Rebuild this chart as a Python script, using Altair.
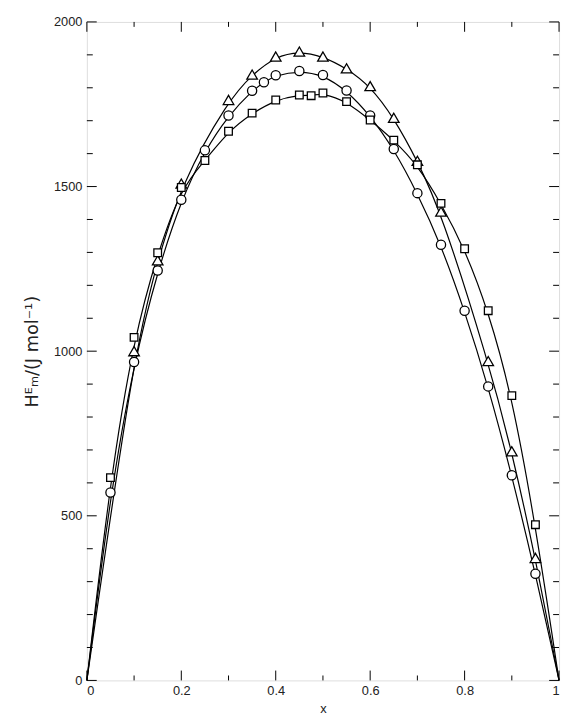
import altair as alt
import pandas as pd

# Data
tri_x = [0.10, 0.15, 0.20, 0.30, 0.35, 0.40, 0.45, 0.50, 0.55, 0.60, 0.65, 0.70, 0.75, 0.85, 0.90, 0.95]
tri_y = [1000, 1276, 1509, 1763, 1840, 1895, 1910, 1895, 1859, 1805, 1709, 1578, 1424, 970, 696, 372]

cir_x = [0.05, 0.10, 0.15, 0.20, 0.25, 0.30, 0.35, 0.375, 0.40, 0.45, 0.50, 0.55, 0.60, 0.65, 0.70, 0.75, 0.80, 0.85, 0.90, 0.95]
cir_y = [571, 967, 1245, 1460, 1610, 1716, 1791, 1817, 1838, 1851, 1839, 1792, 1716, 1614, 1480, 1323, 1123, 893, 623, 324]

sq_x = [0.05, 0.10, 0.15, 0.20, 0.25, 0.30, 0.35, 0.40, 0.45, 0.475, 0.50, 0.55, 0.60, 0.65, 0.70, 0.75, 0.80, 0.85, 0.90, 0.95]
sq_y = [616, 1042, 1299, 1497, 1579, 1668, 1723, 1763, 1778, 1776, 1784, 1758, 1702, 1641, 1566, 1449, 1311, 1123, 865, 473]

end_x = [0.0, 1.0]
end_y = [0, 0]

y_major = [0, 500, 1000, 1500, 2000]
y_minor = [100, 200, 300, 400, 600, 700, 800, 900, 1100, 1200, 1300, 1400,
           1600, 1700, 1800, 1900]
x_major = [0, 0.2, 0.4, 0.6, 0.8, 1.0]
x_minor = [0.1, 0.3, 0.5, 0.7, 0.9]

W, H = 479, 668

series = [("triangle", tri_x, tri_y), ("circle", cir_x, cir_y), ("square", sq_x, sq_y)]
pts = pd.concat([pd.DataFrame({"s": n, "x": xs, "y": ys}) for n, xs, ys in series])
lines = pd.concat([
    pd.DataFrame({"s": n, "x": [end_x[0]] + xs + [end_x[1]], "y": [end_y[0]] + ys + [end_y[1]]})
    for n, xs, ys in series
])

xs = alt.Scale(domain=[0, 1], nice=False, zero=False)
ys = alt.Scale(domain=[0, 2000], nice=False)

FONT = "Liberation Sans"

x_enc = alt.X("x:Q", scale=xs, axis=alt.Axis(
    values=x_major, labelExpr="datum.value == 0 ? '0' : datum.value == 1 ? '1' : format(datum.value, '.1f')",
    ticks=False, domain=False, grid=False, labelPadding=4, labelFontSize=13,
    labelFont=FONT, labelColor="#222", title="x", titleFont=FONT, titleFontSize=13,
    titleFontWeight="normal", titlePadding=6, titleColor="#222"))
y_enc = alt.Y("y:Q", scale=ys, axis=alt.Axis(
    values=y_major, format="d", ticks=False, domain=False, grid=False, labelPadding=5,
    labelFontSize=13, labelFont=FONT, labelColor="#222",
    title="Hᴱₘ/(J mol⁻¹)", titleFont="DejaVu Sans", titleFontSize=18,
    titleFontWeight="normal", titlePadding=12, titleColor="#222"))

line = alt.Chart(lines).mark_line(color="black", strokeWidth=1.2, interpolate="basis").encode(
    x=x_enc, y=y_enc, detail="s:N")

points = alt.Chart(pts).mark_point(filled=True, fill="white", stroke="black",
                                   strokeWidth=1.3, opacity=1).encode(
    x="x:Q", y="y:Q",
    shape=alt.Shape("s:N", scale=alt.Scale(domain=["triangle", "circle", "square"],
                                           range=["triangle-up", "circle", "square"]), legend=None),
    size=alt.Size("s:N", scale=alt.Scale(domain=["triangle", "circle", "square"],
                                         range=[115, 60, 125]), legend=None),
)

def yticks(vals, x0, x1):
    return alt.Chart(pd.DataFrame({"y": vals})).mark_rule(color="black", strokeWidth=1).encode(
        y="y:Q", x=alt.value(x0), x2=alt.value(x1))

def xticks(vals, y0, y1):
    return alt.Chart(pd.DataFrame({"x": vals})).mark_rule(color="black", strokeWidth=1).encode(
        x="x:Q", y=alt.value(y0), y2=alt.value(y1))

ticks = [
    yticks(y_major, 0, 10), yticks(y_minor, 0, 6),
    yticks(y_major, W, W - 10), yticks(y_minor, W, W - 6),
    xticks(x_major, H, H - 10), xticks(x_minor, H, H - 5),
    xticks(x_major, 0, 10), xticks(x_minor, 0, 5),
]

chart = alt.layer(line, points, *ticks).properties(
    width=W, height=H,
    autosize=alt.AutoSizeParams(type="none"),
    padding={"left": 80, "top": 9, "right": 3, "bottom": 34},
).configure_view(stroke="black", strokeWidth=1.5).configure(background="white")

chart.save("out.html", embed_options={"renderer": "svg", "actions": False})
